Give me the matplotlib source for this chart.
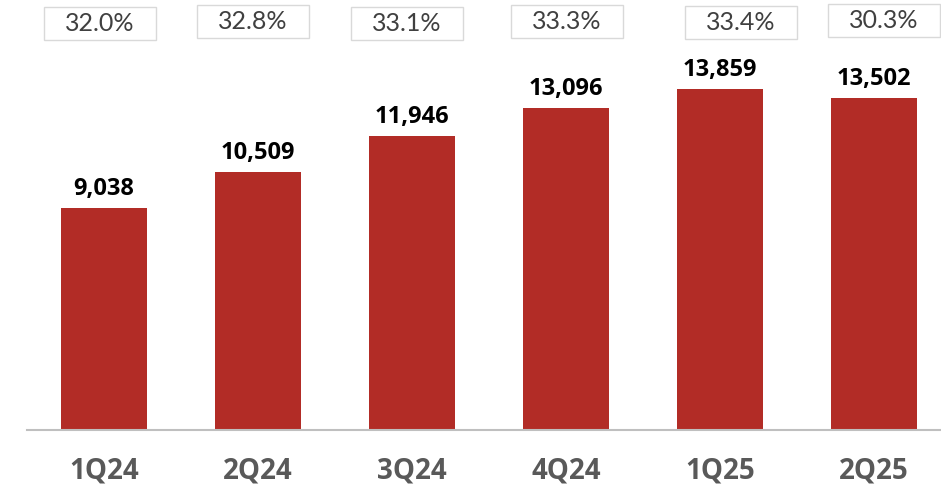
import matplotlib
matplotlib.use("Agg")
import matplotlib.pyplot as plt
import matplotlib.transforms as mtransforms
from matplotlib.patches import Rectangle
import numpy as np

# quarterly values and margin percentages
quarters = ["1Q24", "2Q24", "3Q24", "4Q24", "1Q25", "2Q25"]
values = [9038, 10509, 11946, 13096, 13859, 13502]
margins = [32.0, 32.8, 33.1, 33.3, 33.4, 30.3]

# layout of the margin boxes (offset from bar centre, top in px)
box_dx = [-0.026, -0.032, -0.032, 0.006, 0.136, 0.062]
box_top_px = [7, 5, 7, 5, 6, 4]

BAR_COLOR = "#B22C26"
AXIS_GRAY = "#BFBFBF"
CAT_GRAY = "#595959"
PCT_GRAY = "#404040"
BOLD_FONT = ["Open Sans", "DejaVu Sans"]

plt.rcParams["font.family"] = ["Lato", "DejaVu Sans"]

W, H, DPI = 941, 487, 100
fig = plt.figure(figsize=(W / DPI, H / DPI), dpi=DPI)

base_px = 430
left_px = 27
ax = fig.add_axes([left_px / W, (H - base_px) / H, 1 - left_px / W, base_px / H])

px_per_unit = 0.02457
x_step = 154
ax.set_xlim((left_px - 104) / x_step, (W - 104) / x_step)
ax.set_ylim(0, base_px / px_per_unit)

x = np.arange(len(quarters))
bars = ax.bar(x, values, width=86 / x_step, color=BAR_COLOR, zorder=2)

for xi, v in zip(x, values):
    ax.annotate(f"{v:,}", (xi, v), xytext=(0, 9.4), textcoords="offset points",
                ha="center", va="baseline", fontsize=17, fontweight="bold",
                family=BOLD_FONT, color="black")

# margin boxes along the top
trans = mtransforms.blended_transform_factory(ax.transData, ax.transAxes)
box_w = 112 / x_step
box_h = 33 / base_px
for xi, m, dx, top in zip(x, margins, box_dx, box_top_px):
    cx = xi + dx
    y_top = (base_px - top) / base_px
    ax.add_patch(Rectangle((cx - box_w / 2, y_top - box_h), box_w, box_h,
                           transform=trans, facecolor="white",
                           edgecolor="#D9D9D9", linewidth=1.0,
                           clip_on=False, zorder=3))
    ax.text(cx, y_top - box_h / 2, f"{m:.1f}%", transform=trans,
            ha="center", va="center", fontsize=18, color=PCT_GRAY, zorder=4)

ax.set_xticks(x)
ax.set_xticklabels(quarters, fontsize=20, fontweight="bold", color=CAT_GRAY,
                   family=BOLD_FONT)
ax.tick_params(axis="x", length=0, pad=19)
ax.set_yticks([])

for side in ["top", "right", "left"]:
    ax.spines[side].set_visible(False)
ax.spines["bottom"].set_color(AXIS_GRAY)
ax.spines["bottom"].set_linewidth(1.5)
ax.spines["bottom"].set_zorder(3)

fig.savefig("out.png", dpi=DPI)
